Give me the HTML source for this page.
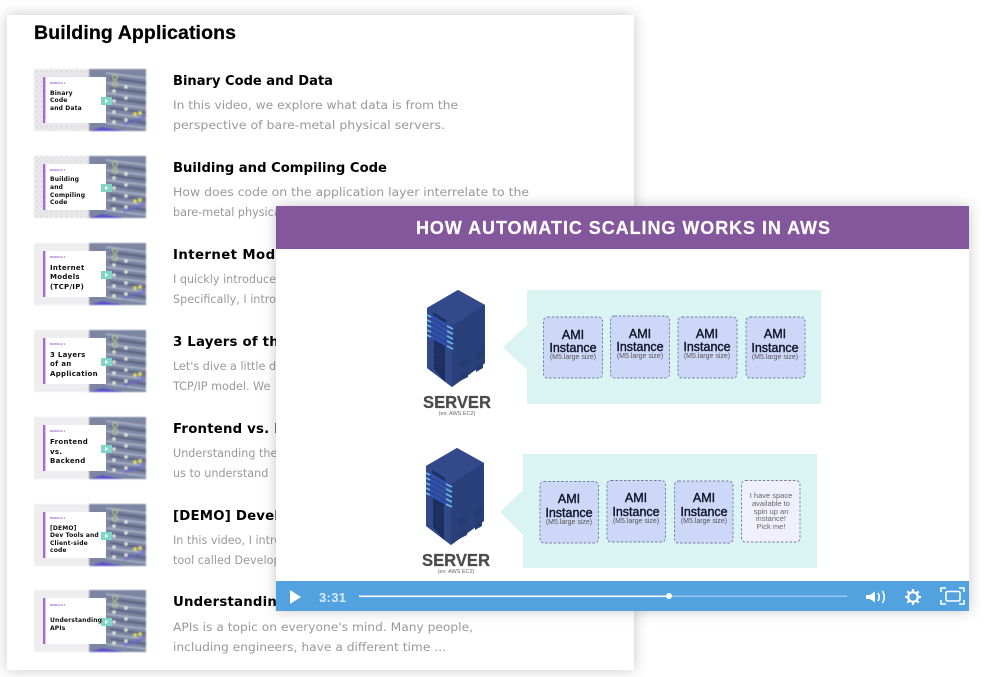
<!DOCTYPE html>
<html lang="en"><head><meta charset="utf-8"><title>Building Applications</title>
<style>
html,body{margin:0;padding:0;background:#fff;width:984px;height:677px;overflow:hidden}
svg{display:block}
text{font-family:"Liberation Sans",sans-serif}
.h{font-family:"DejaVu Sans",sans-serif;font-weight:bold;font-size:13.3px;fill:#000}
.d{font-family:"DejaVu Sans",sans-serif;font-size:11.2px;fill:#999}
.m{font-weight:bold;font-size:3px;fill:#a45fd0}
.t{font-family:"DejaVu Sans",sans-serif;font-weight:bold;font-size:7px;fill:#111;letter-spacing:.3px}
.t2{font-family:"DejaVu Sans",sans-serif;font-weight:bold;font-size:6px;fill:#111;letter-spacing:.15px}
.a{font-size:12.5px;fill:#12162a;text-anchor:middle;stroke:#12162a;stroke-width:.4px}
.s{font-size:7px;fill:#555;text-anchor:middle}
.n{font-size:7.5px;fill:#666;text-anchor:middle}
.sv{font-weight:bold;font-size:17.5px;fill:#4c4c4c;stroke:#4c4c4c;stroke-width:.25px}
.ex{font-size:5.5px;fill:#666;text-anchor:middle}
</style></head><body>
<svg width="984" height="677" viewBox="0 0 984 677" xmlns="http://www.w3.org/2000/svg">
<defs>
<filter id="sh" x="-10%" y="-10%" width="120%" height="120%"><feDropShadow dx="0" dy="0" stdDeviation="7" flood-color="#000" flood-opacity=".22"/></filter>
<filter id="b" x="-2%" y="-2%" width="104%" height="104%"><feGaussianBlur stdDeviation=".3"/></filter>
<filter id="b2" x="-2%" y="-2%" width="104%" height="104%"><feGaussianBlur stdDeviation=".7"/></filter>
<pattern id="dots" width="5" height="5" patternUnits="userSpaceOnUse"><rect width="5" height="5" fill="#ecebee"/><circle cx="1.500" cy="1.500" r="1.100" fill="#d2d0d6"/><circle cx="4" cy="4" r="1" fill="#dad8dd"/></pattern>
<g id="thumb">
<rect x="0" y="0" width="112" height="62" fill="#eeedef"/>
<rect x="55" y="0" width="57" height="62" fill="#7c86a2"/>
<g stroke="#aab4c9" stroke-width="1.500"><path d="M72 4l40 5M72 14l40 5M72 24l40 5M72 34l40 5M72 44l40 5M72 54l40 5"/></g>
<g stroke="#5c6284" stroke-width="2.200"><path d="M76 9l36 5M76 19l36 5M76 29l36 5M76 39l36 5M76 49l36 5"/></g>
<g fill="#e8efdf"><circle cx="80" cy="22" r="1.600"/><circle cx="92" cy="18" r="1.600"/><circle cx="80" cy="32" r="1.600"/><circle cx="92" cy="29" r="1.600"/><circle cx="80" cy="43" r="1.600"/><circle cx="92" cy="40" r="1.600"/><circle cx="80" cy="53" r="1.600"/><circle cx="92" cy="51" r="1.600"/></g>
<g fill="#e6e04a"><circle cx="101" cy="45" r="1.800"/><circle cx="106" cy="44" r="1.800"/></g>
<g fill="none" stroke="#c8d080" stroke-width="1"><circle cx="81" cy="8" r="2.500"/><circle cx="81" cy="15" r="2.500"/></g>
<path d="M56 62l12-4 22 4z" fill="#5a50c8"/>
<path d="M90 54l22-8v3l-22 8z" fill="#6a66d2" opacity=".6"/>
</g>
<g id="thumbtop">
<rect x="9" y="8" width="63" height="46" fill="#fff"/>
<rect x="9" y="8" width="2.400" height="46" fill="#a866d6"/>
<rect x="67" y="28" width="11" height="8" fill="#7fd6c6"/>
<path d="M71 30l3.500 2-3.500 2z" fill="#fff"/>
</g>
<g id="srv">
<path d="M458 290L485 305V363L452 387L427 368V308Z" fill="#2d4380"/>
<path d="M427 308L458 290L485 305L452 326Z" fill="#31498a"/>
<path d="M452 326L485 305V363L452 387Z" fill="#2b407a"/>
<path d="M427 308L452 326V387L427 368Z" fill="#304988"/>
<path d="M434 340L445 346V382L434 369Z" fill="#1f2f60"/>
<path d="M433 312l13 8v3l-13-8z" fill="#1f2f62"/>
<g stroke="#2a3b70" stroke-width=".7"><path d="M436 346l8 5M436 350l8 5M436 354l8 5M436 358l8 5M436 362l8 5M436 366l8 5"/></g>
<g stroke="#2f52c8" stroke-width="1.800"><path d="M430 316l18 10M430 321l18 10M430 326l18 10M430 331l18 10M430 336l18 10"/></g>
<g stroke="#6cb6f4" stroke-width="1.800"><path d="M427 315l4 2M427 320l4 2M427 325l4 2M427 330l4 2M427 335l4 2M447 326l6 3M447 331l6 3M447 336l6 3M447 341l6 3M447 346l6 3"/></g>
<g fill="#263a70"><path d="M460 361l8-4v7l-8 4z"/><path d="M476 353l7-4v7l-7 4z"/><path d="M460 374l8-4v7l-8 4z"/><path d="M476 365l7-4v7l-7 4z"/></g>
</g>
</defs>

<rect x="0" y="0" width="984" height="677" fill="#fff"/>
<rect x="7" y="15" width="627" height="655" fill="#fff" filter="url(#sh)"/>

<g filter="url(#b2)">
<use href="#thumb" x="34" y="69"/><rect x="34" y="69" width="55" height="62" fill="url(#dots)"/>
<use href="#thumb" x="34" y="156"/><rect x="34" y="156" width="55" height="62" fill="url(#dots)"/>
<use href="#thumb" x="34" y="243"/>
<use href="#thumb" x="34" y="330"/>
<use href="#thumb" x="34" y="417"/>
<use href="#thumb" x="34" y="504"/>
<use href="#thumb" x="34" y="590"/>
</g>
<g filter="url(#b)">
<use href="#thumbtop" x="34" y="69"/>
<use href="#thumbtop" x="34" y="156"/>
<use href="#thumbtop" x="34" y="243"/>
<use href="#thumbtop" x="34" y="330"/>
<use href="#thumbtop" x="34" y="417"/>
<use href="#thumbtop" x="34" y="504"/>
<use href="#thumbtop" x="34" y="590"/>

<text x="34" y="39" font-size="19.5" font-weight="bold" fill="#000" stroke="#000" stroke-width=".25" textLength="202" lengthAdjust="spacing">Building Applications</text>

<text class="m" x="50" y="84">MODULE 1</text>
<text class="t2" x="50" y="95">Binary</text><text class="t2" x="50" y="102">Code</text><text class="t2" x="50" y="110">and Data</text>
<text class="m" x="50" y="171">MODULE 1</text>
<text class="t2" x="50" y="181">Building</text><text class="t2" x="50" y="189">and</text><text class="t2" x="50" y="197">Compiling</text><text class="t2" x="50" y="204">Code</text>
<text class="m" x="50" y="258">MODULE 1</text>
<text class="t" x="50" y="270">Internet</text><text class="t" x="50" y="279">Models</text><text class="t" x="50" y="289">(TCP/IP)</text>
<text class="m" x="50" y="345">MODULE 1</text>
<text class="t" x="50" y="357">3 Layers</text><text class="t" x="50" y="366">of an</text><text class="t" x="50" y="376">Application</text>
<text class="m" x="50" y="432">MODULE 1</text>
<text class="t" x="50" y="444">Frontend</text><text class="t" x="50" y="454">vs.</text><text class="t" x="50" y="463">Backend</text>
<text class="m" x="50" y="519">MODULE 1</text>
<text class="t2" x="50" y="530">[DEMO]</text><text class="t2" x="50" y="537">Dev Tools and</text><text class="t2" x="50" y="545">Client-side</text><text class="t2" x="50" y="552">code</text>
<text class="m" x="50" y="606">MODULE 1</text>
<text class="t2" x="50" y="622">Understanding</text><text class="t2" x="50" y="630">APIs</text>

<text class="h" x="173" y="85" textLength="160" lengthAdjust="spacingAndGlyphs">Binary Code and Data</text>
<text class="d" x="173" y="109" textLength="285" lengthAdjust="spacingAndGlyphs">In this video, we explore what data is from the</text>
<text class="d" x="173" y="129" textLength="272" lengthAdjust="spacingAndGlyphs">perspective of bare-metal physical servers.</text>

<text class="h" x="173" y="172" textLength="214" lengthAdjust="spacingAndGlyphs">Building and Compiling Code</text>
<text class="d" x="173" y="196" textLength="356" lengthAdjust="spacingAndGlyphs">How does code on the application layer interrelate to the</text>
<text class="d" x="173" y="216">bare-metal physical servers</text>

<text class="h" x="173" y="259" style="letter-spacing:.4px">Internet Models</text>
<text class="d" x="173" y="283">I quickly introduce the</text>
<text class="d" x="173" y="303">Specifically, I introduce</text>

<text class="h" x="173" y="346" style="letter-spacing:.2px">3 Layers of the Application</text>
<text class="d" x="173" y="370">Let's dive a little deeper</text>
<text class="d" x="173" y="390">TCP/IP model. We</text>

<text class="h" x="173" y="433" style="letter-spacing:.2px">Frontend vs. Backend</text>
<text class="d" x="173" y="457">Understanding the</text>
<text class="d" x="173" y="477">us to understand</text>

<text class="h" x="173" y="520" style="letter-spacing:.2px">[DEMO] Developer Tools</text>
<text class="d" x="173" y="544">In this video, I introduce</text>
<text class="d" x="173" y="564">tool called Developer</text>

<text class="h" x="173" y="606" style="letter-spacing:.2px">Understanding APIs</text>
<text class="d" x="173" y="631" textLength="300" lengthAdjust="spacingAndGlyphs">APIs is a topic on everyone's mind. Many people,</text>
<text class="d" x="173" y="651" textLength="273" lengthAdjust="spacingAndGlyphs">including engineers, have a different time ...</text>
</g>

<rect x="276" y="206" width="693" height="405" fill="#fff" filter="url(#sh)"/>
<rect x="276" y="206" width="693" height="43" fill="#84569b"/>
<g filter="url(#b)">
<text x="416" y="234" font-size="18" font-weight="bold" fill="#fff" stroke="#fff" stroke-width=".2" textLength="414" lengthAdjust="spacing">HOW AUTOMATIC SCALING WORKS IN AWS</text>

<path d="M527 290H821V404H527V370L503 347L527 325Z" fill="#daf3f3"/>
<g fill="#cdd8f8" stroke="#77799c" stroke-width=".9" stroke-dasharray="2.500 1.800">
<rect x="543.500" y="317" width="59" height="61" rx="4"/>
<rect x="610.500" y="316" width="59" height="62" rx="4"/>
<rect x="678" y="317" width="59" height="61" rx="4"/>
<rect x="746" y="317" width="59" height="61" rx="4"/>
</g>
<text class="a" x="573" y="339">AMI</text><text class="a" x="573" y="352">Instance</text><text class="s" x="573" y="359">(M5.large size)</text>
<text class="a" x="640" y="338">AMI</text><text class="a" x="640" y="351">Instance</text><text class="s" x="640" y="358">(M5.large size)</text>
<text class="a" x="707" y="338">AMI</text><text class="a" x="707" y="351">Instance</text><text class="s" x="707" y="358">(M5.large size)</text>
<text class="a" x="775" y="338">AMI</text><text class="a" x="775" y="352">Instance</text><text class="s" x="775" y="359">(M5.large size)</text>

<path d="M523 454H817V568H523V535L500 512L523 490Z" fill="#daf3f3"/>
<g fill="#cdd8f8" stroke="#77799c" stroke-width=".9" stroke-dasharray="2.500 1.800">
<rect x="540" y="481.500" width="58.500" height="61.500" rx="4"/>
<rect x="607" y="480.500" width="58.500" height="61.500" rx="4"/>
<rect x="674.500" y="481" width="58.500" height="62" rx="4"/>
<rect x="741.500" y="480.500" width="58.500" height="61.500" rx="4" fill="#eff0fb"/>
</g>
<text class="a" x="569" y="503">AMI</text><text class="a" x="569" y="517">Instance</text><text class="s" x="569" y="524">(M5.large size)</text>
<text class="a" x="636" y="502">AMI</text><text class="a" x="636" y="516">Instance</text><text class="s" x="636" y="523">(M5.large size)</text>
<text class="a" x="704" y="502">AMI</text><text class="a" x="704" y="516">Instance</text><text class="s" x="704" y="523">(M5.large size)</text>
<text class="n" x="771" y="498">I have space</text><text class="n" x="771" y="506">available to</text><text class="n" x="771" y="514">spin up an</text><text class="n" x="771" y="521">instance!</text><text class="n" x="771" y="529">Pick me!</text>

<use href="#srv"/>
<use href="#srv" x="-1" y="158"/>
<text class="sv" x="423" y="408" textLength="68" lengthAdjust="spacingAndGlyphs">SERVER</text>
<text class="ex" x="457" y="415">(ex: AWS EC2)</text>
<text class="sv" x="422" y="566" textLength="68" lengthAdjust="spacingAndGlyphs">SERVER</text>
<text class="ex" x="456" y="573">(ex: AWS EC2)</text>

<rect x="276" y="581" width="693" height="30" fill="#52a2e0"/>
<path d="M290 590L301 597L290 604Z" fill="#fff"/>
<text x="319" y="602" font-size="13" font-weight="bold" fill="#d9ecf9" textLength="27" lengthAdjust="spacing">3:31</text>
<rect x="359" y="595.500" width="310" height="1.600" fill="#fff"/>
<rect x="669" y="595.700" width="178" height="1" fill="#bcdcf5"/>
<circle cx="669" cy="596" r="3" fill="#fff"/>
<path d="M866 595h4l5-3.500v11l-5-3.500h-4z" fill="#fff"/>
<path d="M878 593q2.500 4 0 8M882.500 591q3.500 6 0 12" fill="none" stroke="#fff" stroke-width="1.600"/>
<circle cx="913" cy="597" r="4.800" fill="none" stroke="#fff" stroke-width="2.200"/>
<g stroke="#fff" stroke-width="2.200"><path d="M913 589v3M913 602v3M905 597h3M918 597h3M907.300 591.300l2 2M916.700 600.700l2 2M918.700 591.300l-2 2M909.300 600.700l-2 2"/></g>
<g fill="none" stroke="#fff" stroke-width="1.600">
<path d="M941 592v-4h5M959 588h5v4M964 600v4h-5M946 604h-5v-4"/>
<rect x="946" y="591.500" width="14" height="9.500" rx="1.500"/>
</g>
</g>
</svg>
</body></html>
